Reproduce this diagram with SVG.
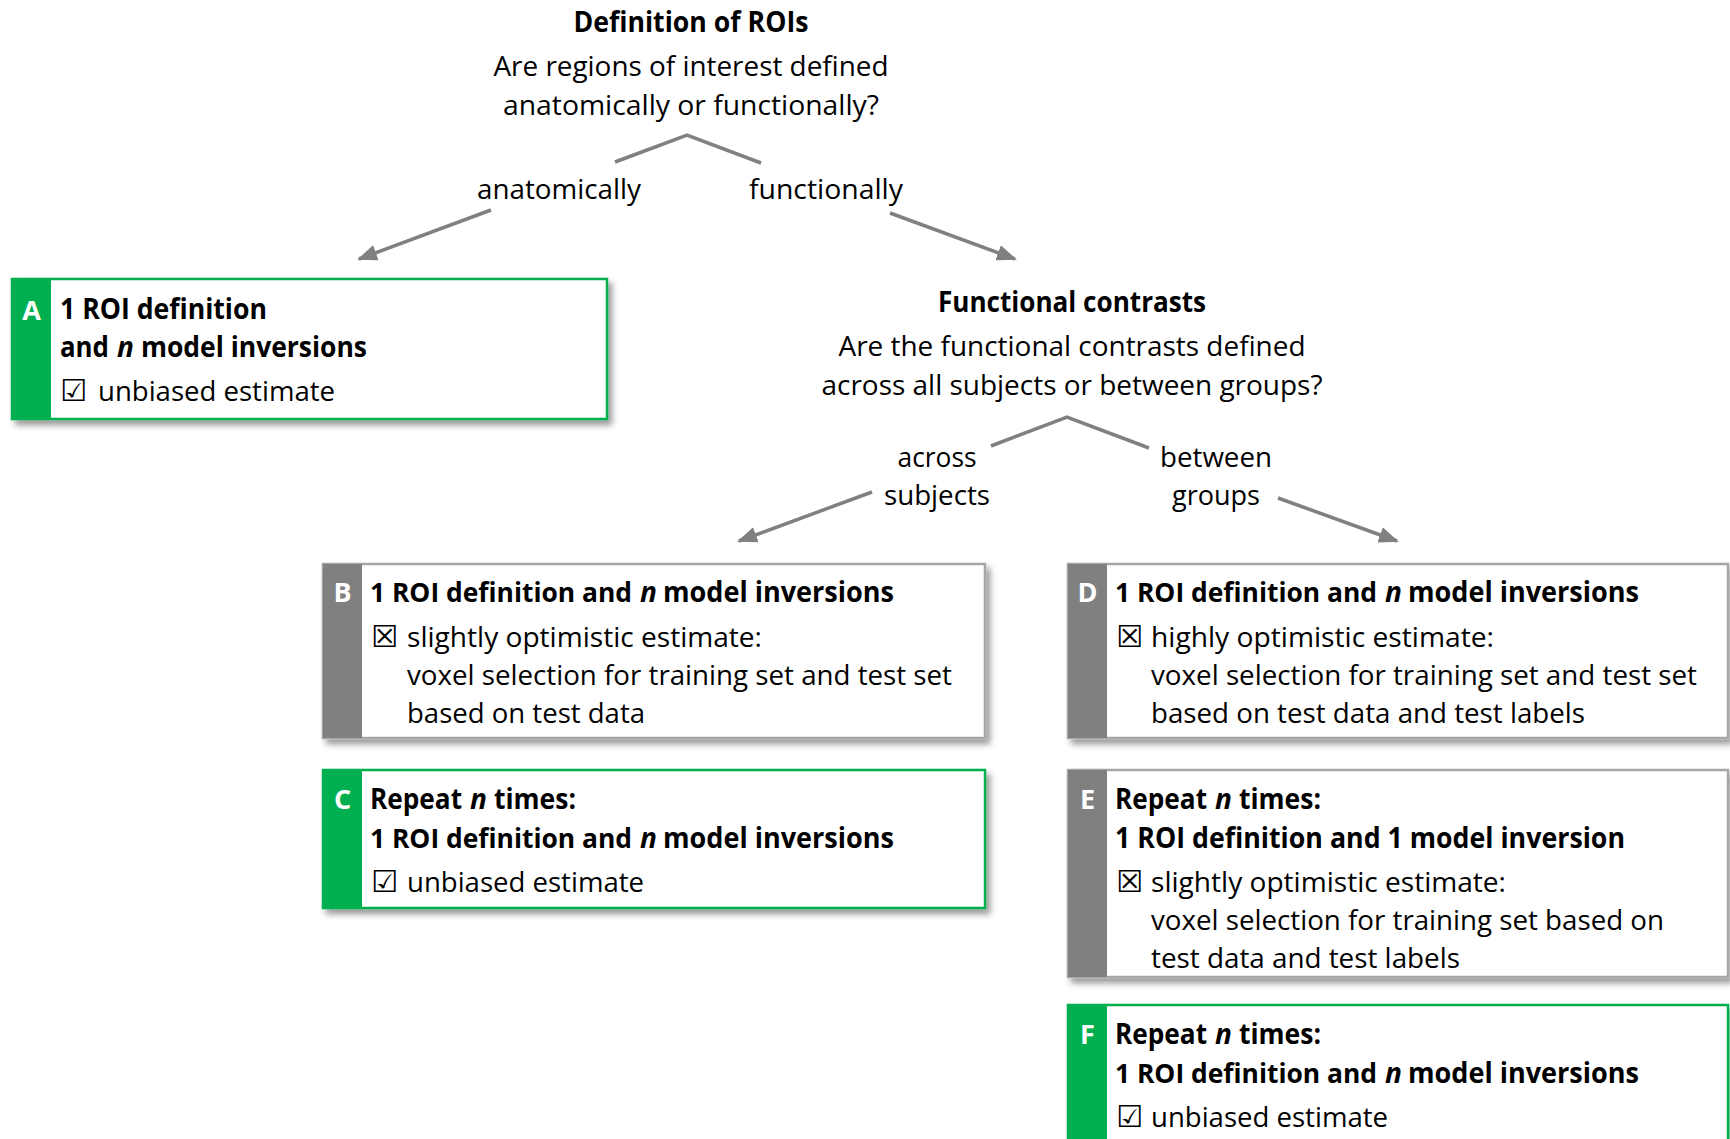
<svg xmlns="http://www.w3.org/2000/svg" width="1730" height="1139" viewBox="0 0 1730 1139">
<defs>
<style>
text{font-family:"Open Sans","Liberation Sans",sans-serif;font-size:28px;fill:#000}
.b{font-weight:bold}
.s{font-size:26px}
.i{font-weight:bold;font-style:italic}
.c{text-anchor:middle}
.lt{font-weight:bold;fill:#fff;text-anchor:middle;font-size:27px}
.ck{font-family:"DejaVu Sans",sans-serif;font-size:30px;font-weight:bold}
.box{fill:#fff;stroke-width:2.5}
.g{stroke:#00B050}
.gr{stroke:#A6A6A6}
.sg{fill:#00B050}
.sgr{fill:#808080}
.con{stroke:#808080;stroke-width:3.5;fill:none}
</style>
<filter id="sh" x="-5%" y="-5%" width="112%" height="120%">
<feDropShadow dx="4" dy="5" stdDeviation="3" flood-color="#000" flood-opacity="0.4"/>
</filter>
<marker id="ah" markerUnits="userSpaceOnUse" markerWidth="20" markerHeight="16" refX="18" refY="8" orient="auto">
<path d="M0,0 L20,8 L0,16 Z" fill="#808080"/>
</marker>
</defs>

<g id="q1">
<text class="b c" x="691" y="32" textLength="235" lengthAdjust="spacingAndGlyphs">Definition of ROIs</text>
<text class="c" x="691" y="76" textLength="395" lengthAdjust="spacingAndGlyphs">Are regions of interest defined</text>
<text class="c" x="691" y="115" textLength="376" lengthAdjust="spacingAndGlyphs">anatomically or functionally?</text>
<text class="c" x="559" y="199" textLength="164" lengthAdjust="spacingAndGlyphs">anatomically</text>
<text class="c" x="826" y="199" textLength="154" lengthAdjust="spacingAndGlyphs">functionally</text>
</g>

<g id="q2">
<text class="b c" x="1072" y="312" textLength="268" lengthAdjust="spacingAndGlyphs">Functional contrasts</text>
<text class="c" x="1072" y="356" textLength="467" lengthAdjust="spacingAndGlyphs">Are the functional contrasts defined</text>
<text class="c" x="1072" y="395" textLength="501" lengthAdjust="spacingAndGlyphs">across all subjects or between groups?</text>
<text class="c" x="937" y="467" textLength="79" lengthAdjust="spacingAndGlyphs">across</text>
<text class="c" x="937" y="505" textLength="106" lengthAdjust="spacingAndGlyphs">subjects</text>
<text class="c" x="1216" y="467" textLength="112" lengthAdjust="spacingAndGlyphs">between</text>
<text class="c" x="1216" y="505" textLength="88" lengthAdjust="spacingAndGlyphs">groups</text>
</g>

<g id="connectors">
<polyline class="con" points="615,162 687,135 761,163"/>
<line class="con" x1="491" y1="210" x2="359" y2="259" marker-end="url(#ah)"/>
<line class="con" x1="890" y1="213" x2="1015" y2="259" marker-end="url(#ah)"/>
<polyline class="con" points="991,446 1067,417 1149,448"/>
<line class="con" x1="872" y1="492" x2="739" y2="541" marker-end="url(#ah)"/>
<line class="con" x1="1278" y1="498" x2="1397" y2="541" marker-end="url(#ah)"/>
</g>

<g id="nodeA">
<rect class="box g" x="12" y="279" width="595" height="140" filter="url(#sh)"/>
<rect class="sg" x="12" y="279" width="39" height="140"/>
<text class="lt" x="31.5" y="320">A</text>
<text class="b" x="60" y="319" textLength="207" lengthAdjust="spacingAndGlyphs">1 ROI definition</text>
<text class="b" x="60" y="357" textLength="49" lengthAdjust="spacingAndGlyphs">and</text>
<text class="i" x="117" y="357">n</text>
<text class="b" x="141" y="357" textLength="226" lengthAdjust="spacingAndGlyphs">model inversions</text>
<text class="ck" x="60" y="401">☑</text>
<text x="98" y="401" textLength="237" lengthAdjust="spacingAndGlyphs">unbiased estimate</text>
</g>

<g id="nodeB">
<rect class="box gr" x="323" y="564" width="662" height="174" filter="url(#sh)"/>
<rect class="sgr" x="323" y="564" width="39" height="174"/>
<text class="lt" x="342.5" y="602">B</text>
<text class="b s" x="370" y="602" textLength="262" lengthAdjust="spacingAndGlyphs">1 ROI definition and</text>
<text class="i" x="640" y="602">n</text>
<text class="b" x="663" y="602" textLength="231" lengthAdjust="spacingAndGlyphs">model inversions</text>
<text class="ck" x="371" y="647">☒</text>
<text x="407" y="647" textLength="355" lengthAdjust="spacingAndGlyphs">slightly optimistic estimate:</text>
<text x="407" y="685" textLength="545" lengthAdjust="spacingAndGlyphs">voxel selection for training set and test set</text>
<text x="407" y="723" textLength="238" lengthAdjust="spacingAndGlyphs">based on test data</text>
</g>

<g id="nodeC">
<rect class="box g" x="323" y="770" width="662" height="138" filter="url(#sh)"/>
<rect class="sg" x="323" y="770" width="39" height="138"/>
<text class="lt" x="342.5" y="809">C</text>
<text class="b" x="370" y="809" textLength="92" lengthAdjust="spacingAndGlyphs">Repeat</text>
<text class="i" x="470" y="809">n</text>
<text class="b" x="494" y="809" textLength="82" lengthAdjust="spacingAndGlyphs">times:</text>
<text class="b s" x="370" y="848" textLength="262" lengthAdjust="spacingAndGlyphs">1 ROI definition and</text>
<text class="i" x="640" y="848">n</text>
<text class="b" x="663" y="848" textLength="231" lengthAdjust="spacingAndGlyphs">model inversions</text>
<text class="ck" x="371" y="892">☑</text>
<text x="407" y="892" textLength="237" lengthAdjust="spacingAndGlyphs">unbiased estimate</text>
</g>

<g id="nodeD">
<rect class="box gr" x="1068" y="564" width="660" height="174" filter="url(#sh)"/>
<rect class="sgr" x="1068" y="564" width="39" height="174"/>
<text class="lt" x="1087.5" y="602">D</text>
<text class="b s" x="1115" y="602" textLength="262" lengthAdjust="spacingAndGlyphs">1 ROI definition and</text>
<text class="i" x="1385" y="602">n</text>
<text class="b" x="1408" y="602" textLength="231" lengthAdjust="spacingAndGlyphs">model inversions</text>
<text class="ck" x="1116" y="647">☒</text>
<text x="1151" y="647" textLength="343" lengthAdjust="spacingAndGlyphs">highly optimistic estimate:</text>
<text x="1151" y="685" textLength="546" lengthAdjust="spacingAndGlyphs">voxel selection for training set and test set</text>
<text x="1151" y="723" textLength="434" lengthAdjust="spacingAndGlyphs">based on test data and test labels</text>
</g>

<g id="nodeE">
<rect class="box gr" x="1068" y="770" width="660" height="207" filter="url(#sh)"/>
<rect class="sgr" x="1068" y="770" width="39" height="207"/>
<text class="lt" x="1087.5" y="809">E</text>
<text class="b" x="1115" y="809" textLength="92" lengthAdjust="spacingAndGlyphs">Repeat</text>
<text class="i" x="1215" y="809">n</text>
<text class="b" x="1239" y="809" textLength="82" lengthAdjust="spacingAndGlyphs">times:</text>
<text class="b" x="1115" y="848" textLength="510" lengthAdjust="spacingAndGlyphs">1 ROI definition and 1 model inversion</text>
<text class="ck" x="1116" y="892">☒</text>
<text x="1151" y="892" textLength="355" lengthAdjust="spacingAndGlyphs">slightly optimistic estimate:</text>
<text x="1151" y="930" textLength="513" lengthAdjust="spacingAndGlyphs">voxel selection for training set based on</text>
<text x="1151" y="968" textLength="309" lengthAdjust="spacingAndGlyphs">test data and test labels</text>
</g>

<g id="nodeF">
<rect class="box g" x="1068" y="1005" width="660" height="150" filter="url(#sh)"/>
<rect class="sg" x="1068" y="1005" width="39" height="150"/>
<text class="lt" x="1087.5" y="1044">F</text>
<text class="b" x="1115" y="1044" textLength="92" lengthAdjust="spacingAndGlyphs">Repeat</text>
<text class="i" x="1215" y="1044">n</text>
<text class="b" x="1239" y="1044" textLength="82" lengthAdjust="spacingAndGlyphs">times:</text>
<text class="b s" x="1115" y="1083" textLength="262" lengthAdjust="spacingAndGlyphs">1 ROI definition and</text>
<text class="i" x="1385" y="1083">n</text>
<text class="b" x="1408" y="1083" textLength="231" lengthAdjust="spacingAndGlyphs">model inversions</text>
<text class="ck" x="1116" y="1127">☑</text>
<text x="1151" y="1127" textLength="237" lengthAdjust="spacingAndGlyphs">unbiased estimate</text>
</g>
</svg>
